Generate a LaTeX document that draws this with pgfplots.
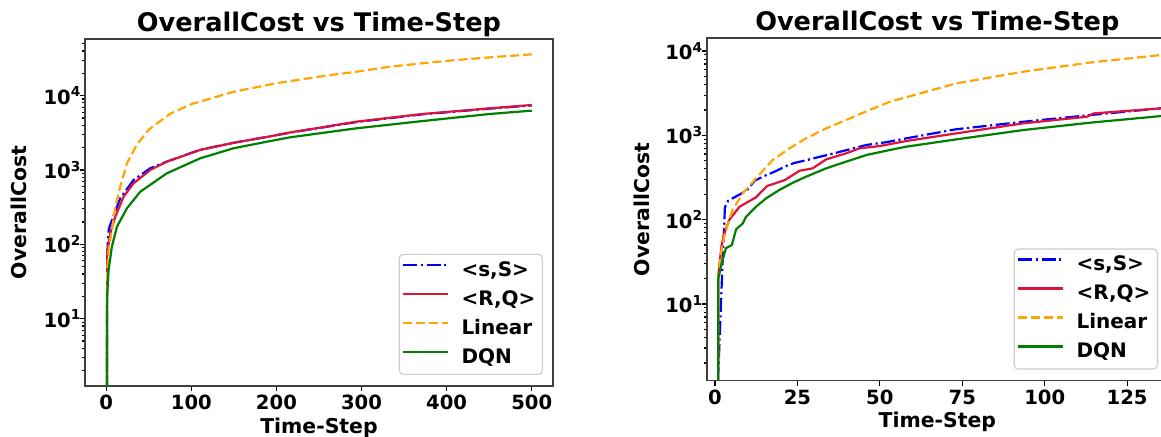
\documentclass[border=0pt]{standalone}
\usepackage{fontspec}
\setmainfont{DejaVu Sans}
\usepackage{pgfplots}
\pgfplotsset{compat=1.18}
\definecolor{ssblue}{RGB}{0,0,255}
\definecolor{rqred}{RGB}{220,20,60}
\definecolor{linorange}{RGB}{255,165,0}
\definecolor{dqngreen}{RGB}{0,128,0}
\pgfplotsset{
  scale only axis,
  axis line style={black!75, line width=0.8pt},
  tick style={black, line width=0.6pt},
  tick align=outside,
  xtick pos=left, ytick pos=left,
  major tick length=2.5pt, minor tick length=1.5pt,
  ticklabel style={font=\fontsize{9.8}{11}\selectfont\bfseries},
  xticklabel style={anchor=base, yshift=-9.5pt},
  yticklabel style={anchor=east, inner xsep=0pt, xshift=0.9pt},
  every axis title/.style={at={(0.5,1)}, anchor=base, yshift=3.65pt,
    font=\fontsize{12.8}{15}\selectfont\bfseries},
  every axis x label/.style={at={([yshift=-23.6pt]axis description cs:0.5,0)}, anchor=base,
    font=\fontsize{10.2}{12}\selectfont\bfseries},
  legend style={at={(1,0)}, anchor=south east, xshift=-5pt, yshift=5.5pt,
    draw=black!20, line width=0.6pt, rounded corners=2pt, fill=white, fill opacity=0.8, text opacity=1,
    font=\fontsize{10}{12}\selectfont\bfseries, inner xsep=1.5pt, inner ysep=1.75pt,
    row sep=1.5pt, column sep=4pt, nodes={inner xsep=2pt, inner ysep=1.5pt, text depth=2.4pt, text height=7.6pt}},
  legend cell align=left,
  legend image code/.code={\draw[#1] (0pt,3pt) -- (22.5pt,3pt);},
  every axis plot/.append style={line width=1.1pt, line join=round},
  ssS/.style={color=ssblue, dash pattern=on 7pt off 1.75pt on 1.1pt off 1.75pt},
  RQ/.style={color=rqred},
  lin/.style={color=linorange, dash pattern=on 4.5pt off 2pt},
  dqn/.style={color=dqngreen},
}
\begin{document}
\begin{tikzpicture}
% first point of each run is a zero cost, written 1e-20 so the log axis draws the drop
\begin{axis}[
  ymode=log,
  at={(0pt,0pt)}, anchor=south west,
  width=234pt, height=173.5pt,
  xmin=-25, xmax=525, ymin=1.244, ymax=57900,
  xtick={0,100,200,300,400,500},
  xticklabels={0,100,200,300,400,500},
  ytick={10,100,1000,10000},
  yticklabels={10\textsuperscript{1},10\textsuperscript{2},10\textsuperscript{3},10\textsuperscript{4}},
  minor ytick={2,3,4,5,6,7,8,9,20,30,40,50,60,70,80,90,200,300,400,500,600,700,800,900,2000,3000,4000,5000,6000,7000,8000,9000,20000,30000,40000,50000},
  title={OverallCost vs Time-Step},
  xlabel={Time-Step},
  ylabel={OverallCost},
  every axis y label/.style={at={([xshift=-33pt]axis description cs:0,0.5)}, rotate=90, anchor=center,
    font=\fontsize{10.2}{12}\selectfont\bfseries},
]
\addplot[ssS] coordinates {(0,1e-20) (1,60) (2,120) (3,160) (6.6,212) (16.4,416) (32,733) (51.6,1054) (71.2,1300) (110,1870) (150,2330) (190,2800) (216,3180) (294,4420) (372,5620) (451,6700) (500,7400)};
\addlegendentry{<s,S>}
\addplot[RQ] coordinates {(0,1e-20) (1,76) (4.7,141) (10.6,235) (20.3,437) (32,662) (51.6,1000) (71.2,1294) (110,1858) (150,2328) (190,2805) (216,3200) (294,4470) (372,5680) (451,6760) (500,7500)};
\addlegendentry{<R,Q>}
\addplot[lin] coordinates {(0,1e-20) (1,45) (3,90) (6.6,156) (10.6,321) (16.4,596) (24.3,1230) (36,2200) (50,3500) (75,5700) (100,7700) (150,11300) (200,14700) (255,18400) (294,21000) (333,24500) (372,27300) (411,30200) (451,32800) (500,36000)};
\addlegendentry{Linear}
\addplot[dqn] coordinates {(0,1e-20) (1,20) (2.7,45) (6.6,93) (12.5,173) (24.3,306) (39.9,510) (71.2,904) (110.3,1436) (149.4,1960) (188.6,2404) (216,2754) (294,3640) (372,4560) (451,5680) (500,6290)};
\addlegendentry{DQN}
\end{axis}

\begin{axis}[
  ymode=log,
  at={(310.85pt,2.65pt)}, anchor=south west,
  width=230.65pt, height=171.2pt,
  xmin=-2.52, xmax=137.4, ymin=1.232, ymax=14150,
  xtick={0,25,50,75,100,125},
  xticklabels={0,25,50,75,100,125},
  ytick={10,100,1000,10000},
  yticklabels={10\textsuperscript{1},10\textsuperscript{2},10\textsuperscript{3},10\textsuperscript{4}},
  minor ytick={2,3,4,5,6,7,8,9,20,30,40,50,60,70,80,90,200,300,400,500,600,700,800,900,2000,3000,4000,5000,6000,7000,8000,9000},
  title={OverallCost vs Time-Step},
  xlabel={Time-Step},
  ylabel={OverallCost},
  every axis y label/.style={at={([xshift=-32.5pt]axis description cs:0,0.5)}, rotate=90, anchor=center,
    font=\fontsize{10.2}{12}\selectfont\bfseries},
]
\addplot[ssS] coordinates {(0,1e-20) (1,1.5) (2,16) (3,140) (4,168) (6,185) (9,215) (10,230) (12,290) (15,330) (18,370) (22,440) (24,470) (28,510) (32,560) (35,596) (40,670) (46,770) (52,830) (58,921) (73,1178) (93.5,1449) (114,1742) (135,2090) (140,2170)};
\addlegendentry{<s,S>}
\addplot[RQ] coordinates {(0,1e-20) (1,22) (2,50) (3,72) (4.3,99) (7.4,142) (12.4,184) (15.8,251) (21.2,295) (25.6,380) (29.6,406) (33.7,519) (39.7,611) (43.8,701) (49.9,746) (57.9,855) (73.3,1057) (93.5,1387) (112.8,1663) (114.8,1820) (135.3,2090) (140,2160)};
\addlegendentry{<R,Q>}
\addplot[lin] coordinates {(0,1e-20) (1,21) (2,45) (3,68) (5.3,130) (8.4,205) (12.4,309) (17.5,510) (22.6,701) (27.6,921) (33.7,1211) (39.7,1517) (46.8,1995) (53.1,2506) (73.3,4140) (93.5,5680) (113.8,7300) (135.3,8970) (140,9300)};
\addlegendentry{Linear}
\addplot[dqn] coordinates {(0,1e-20) (1,20) (2,30) (3.3,46) (5.1,50) (6.4,77) (8.4,90) (9.4,108) (12.4,142) (15.5,179) (19.5,225) (23.6,274) (27.6,323) (33.7,406) (39.7,486) (45.8,583) (51.9,656) (57.9,733) (73.3,897) (93.5,1156) (113.8,1413) (135.3,1694) (140,1750)};
\addlegendentry{DQN}
\end{axis}
\pgfresetboundingbox
\path[use as bounding box] (-42.5pt,-25.5pt) rectangle (538pt,193pt);
\end{tikzpicture}
\end{document}
